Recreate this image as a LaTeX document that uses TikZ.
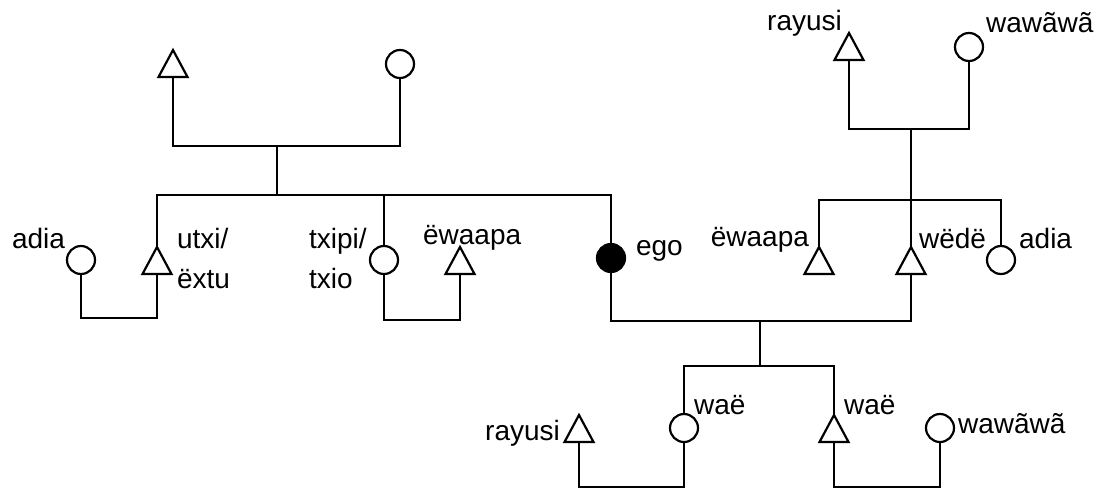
\documentclass[tikz,border=0pt]{standalone}
\usepackage{fontspec}
\setmainfont{Liberation Sans}
\usetikzlibrary{shapes.geometric}
\begin{document}
\begin{tikzpicture}[x=1pt,y=-1pt,line width=2.2pt,
  tri/.style={draw,shape=isosceles triangle,shape border rotate=90,isosceles triangle stretches,minimum width=29pt,minimum height=27pt,inner sep=0pt,outer sep=0pt,anchor=apex},
  circ/.style={draw,circle,minimum size=28pt,inner sep=0pt,outer sep=0pt},
  egocirc/.style={circ,fill=black},
  lbl/.style={font=\fontsize{28}{40}\selectfont,inner sep=0pt,align=left}]
\useasboundingbox (0,0) rectangle (1107,490);
% top-left grandparents
\node[tri] (T1) at (173,50) {};
\node[circ] (C1) at (400,64) {};
\coordinate (j1) at (277,146);
\coordinate (s1) at (277,195);
\draw (T1.lower side) -- (T1.lower side |- j1) -- (C1.south |- j1) -- (C1.south);
\draw (j1) -- (s1);
% children of top-left
\node[tri] (T2) at (157,247) {};
\node[circ] (C3) at (384,260) {};
\node[egocirc] (E) at (611,258) {};
\draw (T2.apex) -- (T2.apex |- s1) -- (E.north |- s1) -- (E.north);
\draw (C3.north) -- (C3.north |- s1);
% adia - utxi
\node[circ] (C2) at (81,260) {};
\coordinate (m2) at (120,318);
\draw (T2.lower side) -- (T2.lower side |- m2) -- (C2.south |- m2) -- (C2.south);
% txipi - ewaapa
\node[tri] (T3) at (460,247) {};
\coordinate (m3) at (420,320);
\draw (C3.south) -- (C3.south |- m3) -- (T3.lower side |- m3) -- (T3.lower side);
% right grandparents
\node[tri] (T4) at (849,33) {};
\node[circ] (C4) at (969,47) {};
\coordinate (j4) at (911,129);
\coordinate (s4) at (911,200);
\draw (T4.lower side) -- (T4.lower side |- j4) -- (C4.south |- j4) -- (C4.south);
% right children
\node[tri] (T6) at (819,247) {};
\node[tri] (T5) at (911,247) {};
\node[circ] (C5) at (1001,260) {};
\draw (j4) -- (T5.apex);
\draw (T6.apex) -- (T6.apex |- s4) -- (C5.north |- s4) -- (C5.north);
% ego - wede marriage
\coordinate (j5) at (760,321);
\coordinate (s5) at (760,366);
\draw (E.south) -- (E.south |- j5) -- (T5.lower side |- j5) -- (T5.lower side);
\draw (j5) -- (s5);
% ego's children
\node[circ] (C6) at (684,428) {};
\node[tri] (T7) at (834,415) {};
\draw (C6.north) -- (C6.north |- s5) -- (T7.apex |- s5) -- (T7.apex);
% spouses of children
\node[tri] (T8) at (579,415) {};
\node[circ] (C7) at (940,428) {};
\coordinate (m6) at (630,487);
\coordinate (m7) at (880,487);
\draw (C6.south) -- (C6.south |- m6) -- (T8.lower side |- m6) -- (T8.lower side);
\draw (T7.lower side) -- (T7.lower side |- m7) -- (C7.south |- m7) -- (C7.south);
% labels
\node[lbl,anchor=west] (L1) at (11,238) {adia};
\node[lbl,anchor=west] (L2) at (176,258) {utxi/\\ëxtu};
\node[lbl,anchor=west] (L3) at (308,258) {txipi/\\txio};
\node[lbl,anchor=west] (L4) at (422,238) {ëwaapa};
\node[lbl,anchor=west] (L5) at (635,251) {ego};
\node[lbl,anchor=east] (L6) at (843,23) {rayusi};
\node[lbl,anchor=west] (L7) at (985,23) {wawãwã};
\node[lbl,anchor=east] (L8) at (810,240) {ëwaapa};
\node[lbl,anchor=west] (L9) at (918,238) {wëdë};
\node[lbl,anchor=west] (L10) at (1018,238) {adia};
\node[lbl,anchor=east] (L11) at (561,433) {rayusi};
\node[lbl,anchor=west] (L12) at (693,405) {waë};
\node[lbl,anchor=west] (L13) at (843,405) {waë};
\node[lbl,anchor=west] (L14) at (957,424) {wawãwã};
\end{tikzpicture}
\end{document}
